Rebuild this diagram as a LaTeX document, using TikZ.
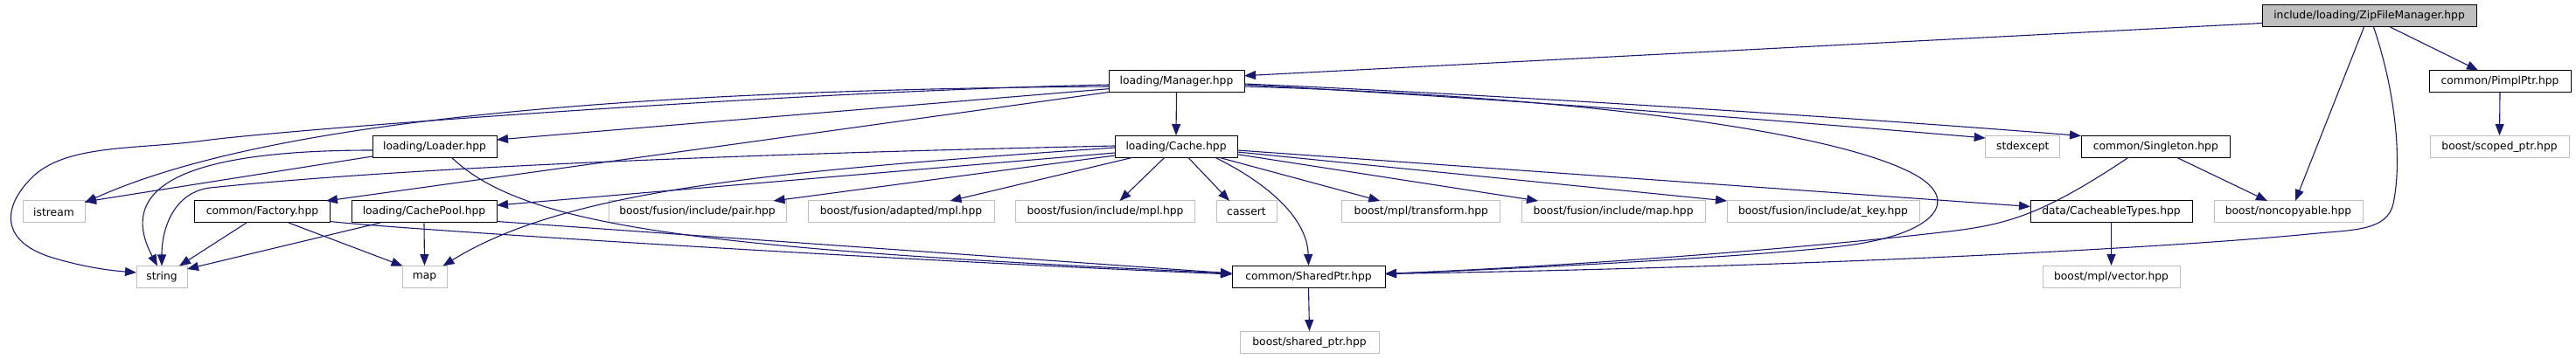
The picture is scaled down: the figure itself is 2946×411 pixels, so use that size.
\documentclass[tikz,border=0pt]{standalone}
\usepackage{fontspec}
\setmainfont{DejaVu Sans}
\usetikzlibrary{arrows.meta,calc}
\definecolor{edgec}{HTML}{191970}
\definecolor{graybd}{HTML}{BFBFBF}
\definecolor{rootfill}{HTML}{BFBFBF}
\begin{document}
\begin{tikzpicture}[x=1pt,y=-1pt,
  box/.style={draw=black,line width=1pt,minimum height=25pt,inner sep=0pt,
    font=\fontsize{12.3}{14}\selectfont},
  ext/.style={box,draw=graybd},
  root/.style={box,fill=rootfill},
  edge/.style={draw=edgec,line width=1.1pt,-{Triangle[length=13pt,width=10pt]}}]
\useasboundingbox (0,0) rectangle (2946,411);
% nodes
\node[root,minimum width=245pt] (zip) at (2709.5,18.5) {include/loading/ZipFileManager.hpp};
\node[box,minimum width=155pt] (manager) at (1345.5,93) {loading/Manager.hpp};
\node[box,minimum width=162pt] (pimpl) at (2859,93) {common/PimplPtr.hpp};
\node[box,minimum width=142pt] (loader) at (497,168) {loading/Loader.hpp};
\node[box,minimum width=140pt] (cache) at (1345,168) {loading/Cache.hpp};
\node[ext,minimum width=85pt] (stdexcept) at (2313.3,168) {stdexcept};
\node[box,minimum width=170.6pt] (singleton) at (2465.3,168) {common/Singleton.hpp};
\node[ext,minimum width=159pt] (scoped) at (2858.5,168) {boost/scoped\_ptr.hpp};
\node[ext,minimum width=71pt] (istream) at (61.5,242.5) {istream};
\node[box,minimum width=155pt] (factory) at (300,242.5) {common/Factory.hpp};
\node[box,minimum width=166pt] (cachepool) at (485,242.5) {loading/CachePool.hpp};
\node[ext,minimum width=203pt] (pair) at (797.5,242.5) {boost/fusion/include/pair.hpp};
\node[ext,minimum width=213pt] (adapted) at (1030.5,242.5) {boost/fusion/adapted/mpl.hpp};
\node[ext,minimum width=205pt] (incmpl) at (1264,242.5) {boost/fusion/include/mpl.hpp};
\node[ext,minimum width=69pt] (cassert) at (1425.5,242.5) {cassert};
\node[ext,minimum width=181pt] (transform) at (1625.3,242.5) {boost/mpl/transform.hpp};
\node[ext,minimum width=210pt] (incmap) at (1845,242.5) {boost/fusion/include/map.hpp};
\node[ext,minimum width=220pt] (atkey) at (2085,242.5) {boost/fusion/include/at\_key.hpp};
\node[box,minimum width=185pt] (cacheable) at (2414.5,242.5) {data/CacheableTypes.hpp};
\node[ext,minimum width=170pt] (noncopy) at (2617,242.5) {boost/noncopyable.hpp};
\node[ext,minimum width=58pt] (string) at (185,317) {string};
\node[ext,minimum width=51pt] (map) at (485.5,317) {map};
\node[box,minimum width=175pt] (sharedptr) at (1496.5,317) {common/SharedPtr.hpp};
\node[ext,minimum width=157pt] (vector) at (2414.5,317) {boost/mpl/vector.hpp};
\node[ext,minimum width=159pt] (sharedb) at (1497.5,392) {boost/shared\_ptr.hpp};
% edges from ZipFileManager
\draw[edge] ($(zip)+(-122.5,8)$) -- ($(manager)+(77.5,-6.3)$);
\draw[edge] ($(zip)+(24,12.5)$) -- ($(pimpl)+(-25,-12.5)$);
\draw[edge] ($(zip)+(-6,12.5)$) -- ($(noncopy)+(8,-12.5)$);
\draw[edge] ($(zip)+(5,12.5)$) .. controls (2738,100) and (2748,180) .. (2737,233)
  .. controls (2730,265) and (2690,263) .. (2640,268)
  .. controls (2500,282) and (2100,305) .. ($(sharedptr)+(87.5,-3.5)$);
\draw[edge] (pimpl.south) -- (scoped.north);
% edges from Manager
\draw[edge] ($(manager)+(-77.5,8.7)$) -- ($(loader)+(71,-8)$);
\draw[edge] (manager.south) -- (cache.north);
\draw[edge] ($(manager)+(-77.5,4)$) .. controls (900,105) and (330,148) .. (233,161)
  .. controls (160,171) and (80,165) .. (40,200)
  .. controls (5,232) and (-5,275) .. (60,295)
  .. controls (100,307) and (130,310) .. ($(string)+(-29,-5)$);
\draw[edge] ($(manager)+(-77.5,6)$) .. controls (700,103) and (300,140) .. ($(istream)+(35.5,-10.5)$);
\draw[edge] ($(manager)+(-77.5,12.5)$) -- ($(factory)+(73,-12.5)$);
\draw[edge] ($(manager)+(77.5,4)$) .. controls (1700,112) and (2000,135) .. ($(stdexcept)+(-42.6,-10)$);
\draw[edge] ($(manager)+(77.5,3)$) .. controls (1700,108) and (2100,133) .. ($(singleton)+(-85.3,-12.5)$);
\draw[edge] ($(manager)+(77.5,6)$) .. controls (1800,110) and (2100,150) .. (2190,200)
  .. controls (2240,228) and (2215,262) .. (2137,277)
  .. controls (2085,289) and (1800,305) .. ($(sharedptr)+(87.5,-3.5)$);
% edges from Loader
\draw[edge] ($(loader)+(-71,11)$) -- ($(istream)+(35.5,-11.5)$);
\draw[edge] ($(loader)+(-71,4)$) .. controls (220,172) and (130,210) .. ($(string)+(-5,-12.5)$);
\draw[edge] ($(loader)+(19.6,12.5)$) .. controls (600,260) and (800,285) .. ($(sharedptr)+(-87.5,-4)$);
% edges from Cache
\draw[edge] ($(cache)+(-70,-1)$) .. controls (900,175) and (480,190) .. (240,215)
  .. controls (200,220) and (185,260) .. ($(string)+(0,-12.5)$);
\draw[edge] ($(cache)+(-70,1)$) .. controls (900,195) and (650,215) .. ($(map)+(21,-12.5)$);
\draw[edge] ($(cache)+(-70,7)$) -- ($(cachepool)+(83,-7.5)$);
\draw[edge] ($(cache)+(-70,10)$) -- ($(pair)+(87,-12.5)$);
\draw[edge] ($(cache)+(-50.4,12.5)$) -- ($(adapted)+(56,-12.5)$);
\draw[edge] ($(cache)+(-13.4,12.5)$) -- ($(incmpl)+(16.5,-12.5)$);
\draw[edge] ($(cache)+(14,12.5)$) -- ($(cassert)+(-19.5,-12.5)$);
\draw[edge] ($(cache)+(45,12.5)$) .. controls (1450,210) and (1495,250) .. (sharedptr.north);
\draw[edge] ($(cache)+(50,12.5)$) -- ($(transform)+(-47,-12.5)$);
\draw[edge] ($(cache)+(70,8.7)$) -- ($(incmap)+(-86,-12.5)$);
\draw[edge] ($(cache)+(70,6)$) -- ($(atkey)+(-110,-12.5)$);
\draw[edge] ($(cache)+(70,4)$) -- ($(cacheable)+(-92.5,-6)$);
% edges from Factory
\draw[edge] ($(factory)+(-18,12.5)$) -- ($(string)+(20,-12.5)$);
\draw[edge] ($(factory)+(30,12.5)$) -- ($(map)+(-25,-12.5)$);
\draw[edge] ($(factory)+(77.5,11)$) .. controls (450,262) and (1000,297) .. ($(sharedptr)+(-87.5,-3)$);
% edges from CachePool
\draw[edge] ($(cachepool)+(-50,12.5)$) -- ($(string)+(29,-9)$);
\draw[edge] (cachepool.south) -- (map.north);
\draw[edge] ($(cachepool)+(83,11)$) -- ($(sharedptr)+(-87.5,-4)$);
% edges from Singleton
\draw[edge] ($(singleton)+(-31.5,12.5)$) .. controls (2330,250) and (2290,258) .. (2220,266)
  .. controls (2100,280) and (1850,302) .. ($(sharedptr)+(87.5,-3.5)$);
\draw[edge] ($(singleton)+(24.5,12.5)$) -- ($(noncopy)+(-24,-12.5)$);
% others
\draw[edge] (cacheable.south) -- (vector.north);
\draw[edge] (sharedptr.south) -- (sharedb.north);
\end{tikzpicture}
\end{document}
